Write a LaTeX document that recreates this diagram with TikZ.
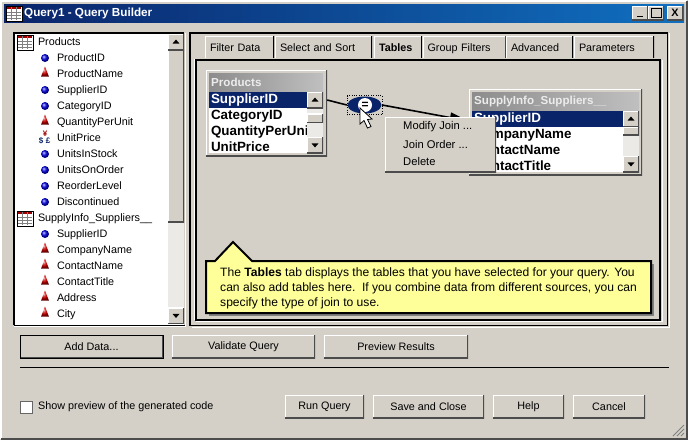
\documentclass[tikz,border=0pt]{standalone}
\usepackage{fontspec}
\setmainfont{Liberation Sans}
\usetikzlibrary{shapes.geometric,arrows.meta}
\definecolor{face}{RGB}{212,208,200}
\definecolor{navy}{RGB}{10,36,106}
\definecolor{titleblue}{RGB}{16,112,192}
\definecolor{track}{RGB}{236,234,230}
\definecolor{tip}{RGB}{255,255,153}
\definecolor{keyblue}{RGB}{0,0,235}
\definecolor{fieldred}{RGB}{225,0,0}
\tikzset{
  tableicon/.pic={
    \draw[black, fill=white] (-8,-7) rectangle (8,8);
    \fill[fieldred!70!black] (-7,-6) rectangle (7,-4);
    \draw[gray] (-7,-1) -- (7,-1) (-7,2) -- (7,2) (-7,5) -- (7,5) (-3,-6) -- (-3,7) (2,-6) -- (2,7);
  }
}
\begin{document}
\begin{tikzpicture}[
  x=1pt, y=-1pt,
  node distance=16pt,
  raised/.style={fill=face, inner sep=0pt, font=\fontsize{10.8}{12}\selectfont,
    path picture={
      \draw[white, line width=2pt] (path picture bounding box.south west) |- (path picture bounding box.north east);
      \draw[black!70, line width=2pt] (path picture bounding box.south west) -| (path picture bounding box.north east);
    }},
  winbtn/.style={raised, minimum height=23pt},
  tabhead/.style={fill=face, inner xsep=5pt, inner ysep=0pt, text height=10pt, text depth=1pt, minimum height=22pt, anchor=north, align=left, font=\fontsize{10.8}{12}\selectfont,
    path picture={
      \draw[white, line width=2pt] (path picture bounding box.south west) |- (path picture bounding box.north east);
      \draw[black, line width=2pt] (path picture bounding box.south east) -- (path picture bounding box.north east);
    }},
  scrollbtn/.style={raised, minimum width=16pt, minimum height=16pt},
  glyphup/.style={isosceles triangle, isosceles triangle apex angle=70, isosceles triangle stretches, shape border rotate=90, fill=black, inner sep=0pt, minimum height=4pt, minimum width=7pt},
  glyphdown/.style={glyphup, shape border rotate=-90},
  field/.style={text width=120pt, align=left, inner sep=0pt, text height=8pt, text depth=2pt, font=\fontsize{10.8}{12}\selectfont},
  keyicon/.style={circle, ball color=keyblue, inner sep=0pt, minimum size=8pt},
  plainicon/.style={isosceles triangle, isosceles triangle stretches, shape border rotate=90, ball color=fieldred, inner sep=0pt, minimum height=10pt, minimum width=8pt},
  tablerow/.style={text width=94pt, align=left, inner sep=0pt, text height=10pt, text depth=3pt, font=\fontsize{13.4}{14}\bfseries\selectfont},
  selrow/.style={tablerow, fill=navy, text=white, minimum height=16pt, inner xsep=2pt},
  tabletitle/.style={inner sep=0pt, text=white!85!gray, anchor=west, font=\fontsize{11.6}{12}\bfseries\selectfont},
  menuitem/.style={anchor=west, inner sep=0pt, font=\fontsize{11.2}{12}\selectfont},
  tipline/.style={anchor=west, inner sep=0pt, font=\fontsize{12.1}{13}\selectfont},
  joinline/.style={black, line width=1.6pt}
]
\useasboundingbox (0,0) rectangle (688,440);

% Window
\fill[face] (0,0) rectangle (688,440);
\draw[white, line width=1.5pt] (1,439) -- (1,1) -- (687,1);
\draw[black!70, line width=1.5pt] (1,439) -- (687,439) -- (687,1);
\shade[left color=navy, right color=titleblue] (4,4) rectangle (684,22);
\node[anchor=west, inner sep=0pt, text=white, font=\fontsize{11.7}{14}\bfseries\selectfont] (title) at (24,13) {Query1 - Query Builder};
\pic at (14,13) {tableicon};
\node[raised, minimum width=16pt, minimum height=14pt] (minbtn) at (640,13) {};
\node[raised, minimum width=16pt, minimum height=14pt] (maxbtn) at (656,13) {};
\node[raised, minimum width=16pt, minimum height=14pt] (closebtn) at (675,13) {\textbf{X}};
\draw[black, line width=1.5pt] (637,16.5) -- (643,16.5);
\draw[black, line width=1pt] (651,8.5) rectangle (661,17.5);

% Left panel
\fill[white] (14,33) rectangle (184,325);
\draw[black, line width=1.5pt] (184,33) -- (14,33) -- (14,325);
\draw[white, line width=1pt] (14,326) -- (185,326) -- (185,33);
\draw[black, line width=1pt] (14,325.5) -- (185,325.5);

\node[field] (products) at (98,42) {Products};
\node[field, text width=100pt] (pid) at (107,58) {ProductID};
\node[field, text width=100pt, below of=pid] (pname) {ProductName};
\node[field, text width=100pt, below of=pname] (psupp) {SupplierID};
\node[field, text width=100pt, below of=psupp] (pcat) {CategoryID};
\node[field, text width=100pt, below of=pcat] (pqty) {QuantityPerUnit};
\node[field, text width=100pt, below of=pqty] (pprice) {UnitPrice};
\node[field, text width=100pt, below of=pprice] (pstock) {UnitsInStock};
\node[field, text width=100pt, below of=pstock] (porder) {UnitsOnOrder};
\node[field, text width=100pt, below of=porder] (plevel) {ReorderLevel};
\node[field, text width=100pt, below of=plevel] (pdisc) {Discontinued};
\node[field] (supply) at (98,218) {SupplyInfo\_Suppliers\_\_};
\node[field, text width=100pt] (sid) at (107,234) {SupplierID};
\node[field, text width=100pt, below of=sid] (scomp) {CompanyName};
\node[field, text width=100pt, below of=scomp] (scontact) {ContactName};
\node[field, text width=100pt, below of=scontact] (stitle) {ContactTitle};
\node[field, text width=100pt, below of=stitle] (saddr) {Address};
\node[field, text width=100pt, below of=saddr] (scity) {City};

% Icons
\pic at (25,42) {tableicon};
\pic at (25,218) {tableicon};
\node[keyicon] (ipid) at (45,58) {};
\node[plainicon] (ipname) at (45,74) {};
\node[keyicon] (ipsupp) at (45,90) {};
\node[keyicon] (ipcat) at (45,106) {};
\node[plainicon] (ipqty) at (45,122) {};
\node[inner sep=0pt, text=navy, font=\fontsize{8}{8}\bfseries\selectfont] (idollar) at (41,141) {\$};
\node[inner sep=0pt, text=navy, font=\fontsize{8}{8}\bfseries\selectfont] (ipound) at (48,141) {£};
\node[inner sep=0pt, text=fieldred!70!black, font=\fontsize{8}{8}\bfseries\selectfont] (iyen) at (45,134) {¥};
\node[keyicon] (ipstock) at (45,154) {};
\node[keyicon] (iporder) at (45,170) {};
\node[keyicon] (iplevel) at (45,186) {};
\node[keyicon] (ipdisc) at (45,202) {};
\node[keyicon] (isid) at (45,234) {};
\node[plainicon] (iscomp) at (45,250) {};
\node[plainicon] (iscontact) at (45,266) {};
\node[plainicon] (istitle) at (45,282) {};
\node[plainicon] (isaddr) at (45,298) {};
\node[plainicon] (iscity) at (45,314) {};

% Left scroll bar
\fill[track] (168,50) rectangle (184,323);
\node[raised, minimum width=16pt, minimum height=172pt] (thumb) at (176,136) {};
\node[scrollbtn] (listup) at (176,42) {};
\node[glyphup] at (listup) {};
\node[scrollbtn] (listdown) at (176,315.5) {};
\node[glyphdown] at (listdown) {};

% Right panel
\draw[black, line width=1.5pt] (190,33) -- (667.5,33) -- (667.5,325.5) -- (190,325.5) -- cycle;
\draw[white, line width=1pt] (192,327) -- (669,327) -- (669,33);
\draw[white, line width=1pt] (194.5,319.5) -- (194.5,59) -- (661,59);
\draw[black, line width=1.5pt] (196,320) -- (196,60) -- (660,60) -- (660,320) -- cycle;
\draw[white, line width=1pt] (196,321.5) -- (662,321.5) -- (662,60);

% Tabs
\node[tabhead, text width=59pt] (tabfilter) at (239.5,36) {Filter Data};
\node[tabhead, text width=87pt] (tabsort) at (323.5,36) {Select and Sort};
\node[tabhead, text width=38pt, font=\fontsize{10.8}{12}\bfseries\selectfont] (tabtables) at (398,36) {Tables};
\node[tabhead, text width=73pt] (tabgroup) at (464,36) {Group Filters};
\node[tabhead, text width=57pt] (tabadv) at (539.5,36) {Advanced};
\node[tabhead, text width=70pt] (tabparam) at (614,36) {Parameters};

% Products table
\node[raised, minimum width=121pt, minimum height=86pt] (prodbox) at (266.5,113) {};
\shade[left color=black!45, right color=black!25] (209,73) rectangle (323,91);
\node[tabletitle] (prodtitle) at (211,82) {Products};
\fill[white] (209,92) rectangle (323,153);
\node[selrow] (prodsel) at (258,100) {SupplierID};
\node[tablerow, below of=prodsel] (prodcat) {CategoryID};
\node[tablerow, below of=prodcat] (prodqty) {QuantityPerUnit};
\node[tablerow, below of=prodqty] (prodprice) {UnitPrice};
\fill[track] (307,92) rectangle (323,153);
\node[scrollbtn] (produp) at (315,100) {};
\node[glyphup] at (produp) {};
\node[raised, minimum width=16pt, minimum height=9pt] (prodthumb) at (315,118) {};
\node[scrollbtn] (proddown) at (315,145) {};
\node[glyphdown] at (proddown) {};

% Suppliers table
\node[raised, minimum width=173pt, minimum height=86pt] (suppbox) at (555.5,132) {};
\shade[left color=black!45, right color=black!25] (472,92) rectangle (639,110);
\node[tabletitle] (supptitle) at (474,101) {SupplyInfo\_Suppliers\_\_};
\fill[white] (472,111) rectangle (639,172);
\node[selrow, text width=147pt] (suppsel) at (547.5,119) {SupplierID};
\node[tablerow, text width=147pt, below of=suppsel] (suppcomp) {CompanyName};
\node[tablerow, text width=147pt, below of=suppcomp] (suppcontact) {ContactName};
\node[tablerow, text width=147pt, below of=suppcontact] (supptitlerow) {ContactTitle};
\fill[track] (623,111) rectangle (639,172);
\node[scrollbtn] (suppup) at (631,119) {};
\node[glyphup] at (suppup) {};
\node[raised, minimum width=16pt, minimum height=8pt] (suppthumb) at (631,131) {};
\node[scrollbtn] (suppdown) at (631,164) {};
\node[glyphdown] at (suppdown) {};

% Join
\node[ellipse, fill=navy, minimum width=34pt, minimum height=17pt, inner sep=0pt] (join) at (364.5,105) {};
\node[draw, dotted, minimum width=35pt, minimum height=19pt, inner sep=0pt] (joinsel) at (364.5,105) {};
\node[circle, fill=white, minimum size=14pt, inner sep=0pt, font=\fontsize{12}{12}\bfseries\selectfont] (joineq) at (365,105) {=};
\draw[joinline] (prodbox.east |- prodsel) -- (joinsel.west);
\draw[joinline, -{Triangle[length=19pt,width=10pt]}] (joinsel.east) -- ([yshift=-2pt]suppbox.west |- suppsel);

% Context menu
\node[raised, minimum width=111pt, minimum height=55pt] (menu) at (440.5,144.5) {};
\node[menuitem] (modify) at (403,127) {Modify Join ...};
\node[menuitem] (order) at (403,144) {Join Order ...};
\node[menuitem] (delete) at (403,161) {Delete};

% Cursor
\draw[black, fill=white, line width=0.8pt, line join=miter] (360,108) -- (360,124) -- (364,120.5) -- (367.5,128) -- (371,126.5) -- (367.5,119.5) -- (372,119) -- cycle;

% Callout
\fill[black!50] (209,264) rectangle (654,316);
\draw[black, fill=tip, line width=2pt] (206,261) -- (215,261) -- (233,242) -- (252,261) -- (651,261) -- (651,313) -- (206,313) -- cycle;
\node[tipline] (tipone) at (220,273.5) {The \textbf{Tables} tab displays the tables that you have selected for your query. You};
\node[tipline] (tiptwo) at (220,288) {can also add tables here.\ \ If you combine data from different sources, you can};
\node[tipline] (tipthree) at (220,303) {specify the type of join to use.};

% Buttons
\node[winbtn, minimum width=143pt, draw=black, line width=1pt] (adddata) at (91.5,346.5) {Add Data...};
\node[winbtn, minimum width=143pt] (validate) at (243.5,346.5) {Validate Query};
\node[winbtn, minimum width=144pt] (preview) at (396,346.5) {Preview Results};
\draw[black, line width=1pt] (20,367) -- (669,367);
\node[fill=white, draw=black!60, minimum size=12pt, inner sep=0pt] (showbox) at (26,407) {};
\node[anchor=west, inner sep=0pt, font=\fontsize{10.8}{12}\selectfont] (showlabel) at (38,407) {Show preview of the generated code};
\node[winbtn, minimum width=79pt] (runquery) at (324.5,406.5) {Run Query};
\node[winbtn, minimum width=111pt] (saveclose) at (428.5,406.5) {Save and Close};
\node[winbtn, minimum width=71pt] (help) at (528.5,406.5) {Help};
\node[winbtn, minimum width=72pt] (cancel) at (609,406.5) {Cancel};

% Grip
\draw[black!50, line width=1pt] (673,436) -- (684,425) (677,436) -- (684,429) (681,436) -- (684,433);

\end{tikzpicture}
\end{document}
